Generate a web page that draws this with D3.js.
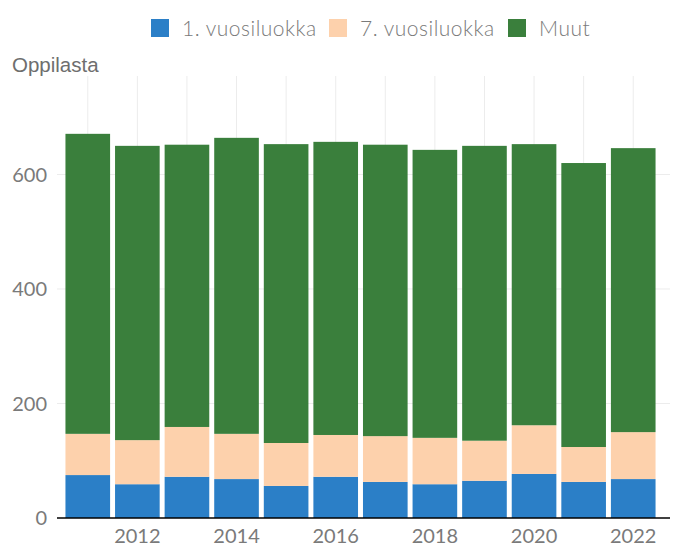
<!DOCTYPE html>
<html>
<head>
<meta charset="utf-8">
<script src="https://cdn.jsdelivr.net/npm/d3@7"></script>
<style>
  body { margin: 0; background: #fff; }
  svg { display: block; }
</style>
</head>
<body>
<div id="chart"></div>
<script>
const years = [2011, 2012, 2013, 2014, 2015, 2016, 2017, 2018, 2019, 2020, 2021, 2022];
const ekaluokka = [75, 59, 72, 68, 56, 72, 63, 59, 65, 77, 63, 68];
const seitsemas = [72, 77, 87, 79, 75, 73, 80, 81, 70, 85, 61, 82];
const muut = [524, 514, 493, 517, 522, 512, 509, 503, 515, 491, 496, 496];
const seriesNames = ["1. vuosiluokka", "7. vuosiluokka", "Muut"];
const xTicks = [2012, 2014, 2016, 2018, 2020, 2022];
const yTicks = [0, 200, 400, 600];

const COLORS = {
    series: ['#2b7fc7', '#fdd1ac', '#3a7f3c'],
    grid: '#ececec',
    text: '#7a7a7a',
    axis: '#000'
};

const W = 674, H = 547;
const plot = { left: 57, right: 670, top: 76, bottom: 518 };

const svg = d3.select('#chart').append('svg')
    .attr('width', W)
    .attr('height', H);

const x = d3.scaleBand()
    .domain(years)
    .range([60.5, 660.5])
    .padding(0.1);

const y = d3.scaleLinear()
    .domain([0, 772])
    .range([plot.bottom, plot.top]);

// table for the stack
const rows = years.map((yr, i) => ({
    year: yr,
    [seriesNames[0]]: ekaluokka[i],
    [seriesNames[1]]: seitsemas[i],
    [seriesNames[2]]: muut[i]
}));
const stacked = d3.stack().keys(seriesNames)(rows);

// grid
svg.append('g').selectAll('line.v')
    .data(years)
    .enter().append('line')
    .attr('x1', d => x(d) + x.bandwidth() / 2)
    .attr('x2', d => x(d) + x.bandwidth() / 2)
    .attr('y1', plot.top)
    .attr('y2', plot.bottom)
    .style('stroke', COLORS.grid)
    .style('stroke-width', 1);

svg.append('g').selectAll('line.h')
    .data(yTicks.filter(d => d > 0))
    .enter().append('line')
    .attr('x1', plot.left)
    .attr('x2', plot.right)
    .attr('y1', d => y(d))
    .attr('y2', d => y(d))
    .style('stroke', COLORS.grid)
    .style('stroke-width', 1);

// bars
svg.append('g').selectAll('g')
    .data(stacked)
    .enter().append('g')
    .style('fill', (d, i) => COLORS.series[i])
    .selectAll('rect')
    .data(d => d)
    .enter().append('rect')
    .attr('x', d => x(d.data.year))
    .attr('width', x.bandwidth())
    .attr('y', d => y(d[1]))
    .attr('height', d => y(d[0]) - y(d[1]));

// x axis line
svg.append('line')
    .attr('x1', plot.left)
    .attr('x2', plot.right)
    .attr('y1', plot.bottom)
    .attr('y2', plot.bottom)
    .style('stroke', COLORS.axis)
    .style('stroke-width', 1.5);

// x tick labels
svg.append('g').selectAll('text')
    .data(xTicks)
    .enter().append('text')
    .attr('x', d => x(d) + x.bandwidth() / 2)
    .attr('y', 543)
    .attr('text-anchor', 'middle')
    .attr('font-family', 'Lato, sans-serif')
    .attr('font-size', '20px')
    .style('fill', COLORS.text)
    .text(d => d);

// y tick labels
svg.append('g').selectAll('text')
    .data(yTicks)
    .enter().append('text')
    .attr('x', 47)
    .attr('y', d => y(d))
    .attr('dy', '0.36em')
    .attr('text-anchor', 'end')
    .attr('font-family', 'Lato, sans-serif')
    .attr('font-size', '20px')
    .style('fill', COLORS.text)
    .text(d => d);

// y title
svg.append('text')
    .attr('x', 12)
    .attr('y', 72)
    .attr('font-family', '"Liberation Sans", Arial, sans-serif')
    .attr('font-size', '20.5px')
    .style('fill', '#6e6e6e')
    .text('Oppilasta');

// legend
const legendX = [151, 329, 508];
const legend = svg.append('g').selectAll('g')
    .data(seriesNames)
    .enter().append('g')
    .attr('transform', (d, i) => 'translate(' + legendX[i] + ',19)');

legend.append('rect')
    .attr('width', 18)
    .attr('height', 18)
    .style('fill', (d, i) => COLORS.series[i]);

legend.append('text')
    .attr('x', 31)
    .attr('y', 17)
    .attr('font-family', 'Lato, sans-serif')
    .attr('font-weight', 300)
    .attr('font-size', '21px')
    .attr('letter-spacing', '0.5px')
    .style('fill', COLORS.text)
    .text(d => d);
</script>
</body>
</html>
